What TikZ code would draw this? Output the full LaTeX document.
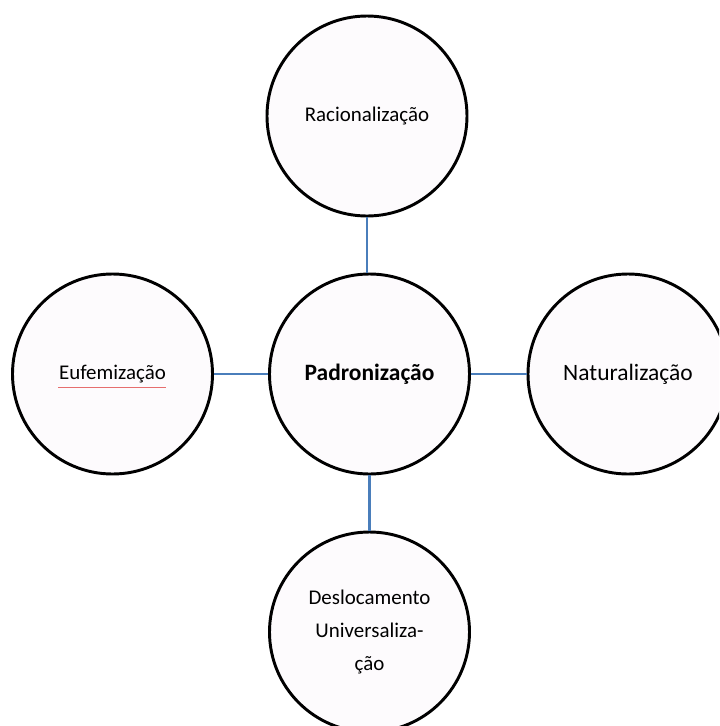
\documentclass[tikz,border=0pt]{standalone}
\usepackage{fontspec}
\setmainfont{Carlito}
\definecolor{fillc}{RGB}{253,251,253}
\definecolor{connc}{RGB}{74,126,187}
\definecolor{spellred}{RGB}{230,110,110}
\begin{document}
\begin{tikzpicture}[x=0.75pt,y=-0.75pt,
  bubble/.style={circle,draw=black,line width=2.2pt,fill=fillc,minimum size=150pt,inner sep=0pt,align=center,font=\fontsize{15.7}{24.5}\selectfont},
  bigtext/.style={font=\fontsize{17.6}{24.5}\selectfont},
  conn/.style={draw=connc,line width=1.8pt}]
\useasboundingbox (0,0) rectangle (719,726);
\clip (0,0) rectangle (719,726);
\node[bubble] (top) at (367,116) {Racionalização};
\node[bubble,bigtext] (mid) at (369.5,374) {\textbf{Padronização}};
\node[bubble] (left) at (112.5,374) {Eufemização};
\node[bubble,bigtext] (right) at (628,374) {Naturalização};
\node[bubble] (bot) at (369.5,632) {Deslocamento\\Universaliza-\\ção};
\draw[conn] (top.south) -- (top.south |- mid.north);
\draw[conn] (left.east) -- (mid.west);
\draw[conn] (mid.east) -- (right.west);
\draw[conn] (mid.south) -- (bot.north);
\coordinate (ulA) at (58,387);
\coordinate (ulB) at (166,387);
\draw[spellred,line width=0.5pt] (ulA) -- (ulB);
\end{tikzpicture}
\end{document}
